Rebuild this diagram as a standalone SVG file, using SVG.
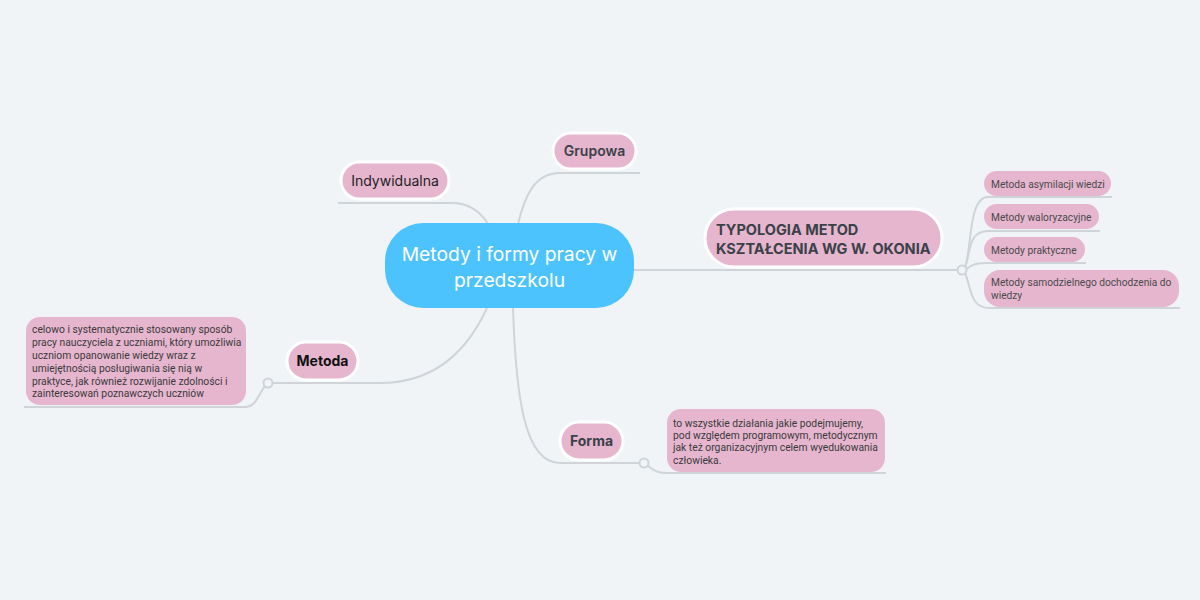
<svg xmlns="http://www.w3.org/2000/svg" width="1200" height="600" viewBox="0 0 1200 600">
<style>
.bg{fill:#f0f4f7}
.ln{fill:none;stroke:#cfd4d8;stroke-width:2}
.dot{fill:#f0f4f7;stroke:#cfd4d8;stroke-width:2}
.top{fill:#e6b6cf;stroke:#ffffff;stroke-width:3}
.sub{fill:#e6b6cf}
.t{font-family:Inter,"Liberation Sans",sans-serif}
.r{font-family:Roboto,"Liberation Sans",sans-serif}
.tt{font-size:14px;text-anchor:middle}
.st{font-size:10.2px;fill:#4a4a4a}
.nt{font-size:10.3px;fill:#3a3a3a}
</style>
<rect class="bg" width="1200" height="600"/>
<g id="connectors">
<path class="ln" d="M338,203 H452 C468,203 480,211 488,224"/>
<path class="ln" d="M518,224 C525,195 535,173 560,173 H640"/>
<path class="ln" d="M487,308 C470,345 440,383 380,383 H272"/>
<path class="ln" d="M265,386 C258,395 256,407 245,407 H24"/>
<path class="ln" d="M513,308 C516,400 525,463 560,463 H640"/>
<path class="ln" d="M648,466 C655,472 660,473 668,473 H886"/>
<path class="ln" d="M634,270 H958"/>
<path class="ln" d="M965,267 C972,250 968,197 988,197 H1112"/>
<path class="ln" d="M965,267 C971,252 968,231 988,231 H1100"/>
<path class="ln" d="M966,269 C972,265 975,263 988,263 H1086"/>
<path class="ln" d="M965,273 C972,290 970,308 990,308 H1180"/>
<circle class="dot" cx="268" cy="383" r="4.5"/>
<circle class="dot" cx="644" cy="463" r="4.5"/>
<circle class="dot" cx="962" cy="270" r="4.5"/>
</g>
<g id="central">
<rect x="385" y="223" width="249" height="85" rx="38" fill="#4dc3fd"/>
<text class="t" x="509.5" y="261" font-size="19.3" fill="#ffffff" text-anchor="middle">Metody i formy pracy w</text>
<text class="t" x="509.5" y="287" font-size="19.3" fill="#ffffff" text-anchor="middle">przedszkolu</text>
</g>
<g id="indywidualna">
<rect class="top" x="341" y="162" width="108" height="37" rx="18.5"/>
<text class="t tt" x="395" y="185.5" fill="#1e1e1e">Indywidualna</text>
</g>
<g id="grupowa">
<rect class="top" x="553" y="133" width="83" height="36" rx="18"/>
<text class="t tt" x="594.5" y="156" fill="#3b4148" font-weight="600">Grupowa</text>
</g>
<g id="metoda">
<rect class="top" x="287" y="342" width="71" height="38" rx="19"/>
<text class="t tt" x="322.5" y="366" fill="#111111" font-weight="700">Metoda</text>
</g>
<g id="forma">
<rect class="top" x="560" y="422" width="63" height="38" rx="19"/>
<text class="t tt" x="591.5" y="446" fill="#3b4148" font-weight="700">Forma</text>
</g>
<g id="typologia">
<rect class="top" x="705" y="209" width="237" height="58" rx="29"/>
<text class="t" x="716" y="235" font-size="14.5" font-weight="700" fill="#3b4148">TYPOLOGIA METOD</text>
<text class="t" x="716" y="253.5" font-size="14.5" font-weight="700" fill="#3b4148">KSZTAŁCENIA WG W. OKONIA</text>
</g>
<g id="asymilacji">
<rect class="sub" x="984" y="171" width="127" height="25" rx="12.5"/>
<text class="r st" x="991" y="187.5">Metoda asymilacji wiedzi</text>
</g>
<g id="waloryzacyjne">
<rect class="sub" x="984" y="204" width="115" height="25" rx="12.5"/>
<text class="r st" x="991" y="220.5">Metody waloryzacyjne</text>
</g>
<g id="praktyczne">
<rect class="sub" x="984" y="237" width="101" height="25" rx="12.5"/>
<text class="r st" x="991" y="253.5">Metody praktyczne</text>
</g>
<g id="samodzielnego">
<rect class="sub" x="984" y="270" width="195" height="37" rx="16"/>
<text class="r st" x="991" y="286">Metody samodzielnego dochodzenia do</text>
<text class="r st" x="991" y="299">wiedzy</text>
</g>
<g id="note-metoda">
<rect class="sub" x="26" y="317" width="220" height="88" rx="14"/>
<text class="r nt" x="32" y="333">celowo i systematycznie stosowany sposób</text>
<text class="r nt" x="32" y="346">pracy nauczyciela z uczniami, który umożliwia</text>
<text class="r nt" x="32" y="358.5">uczniom opanowanie wiedzy wraz z</text>
<text class="r nt" x="32" y="371.5">umiejętnością posługiwania się nią w</text>
<text class="r nt" x="32" y="384.5">praktyce, jak również rozwijanie zdolności i</text>
<text class="r nt" x="32" y="397">zainteresowań poznawczych uczniów</text>
</g>
<g id="note-forma">
<rect class="sub" x="667" y="409" width="218" height="63" rx="14"/>
<text class="r nt" x="673" y="427">to wszystkie działania jakie podejmujemy,</text>
<text class="r nt" x="673" y="439">pod względem programowym, metodycznym</text>
<text class="r nt" x="673" y="451">jak też organizacyjnym celem wyedukowania</text>
<text class="r nt" x="673" y="464">człowieka.</text>
</g>
</svg>
